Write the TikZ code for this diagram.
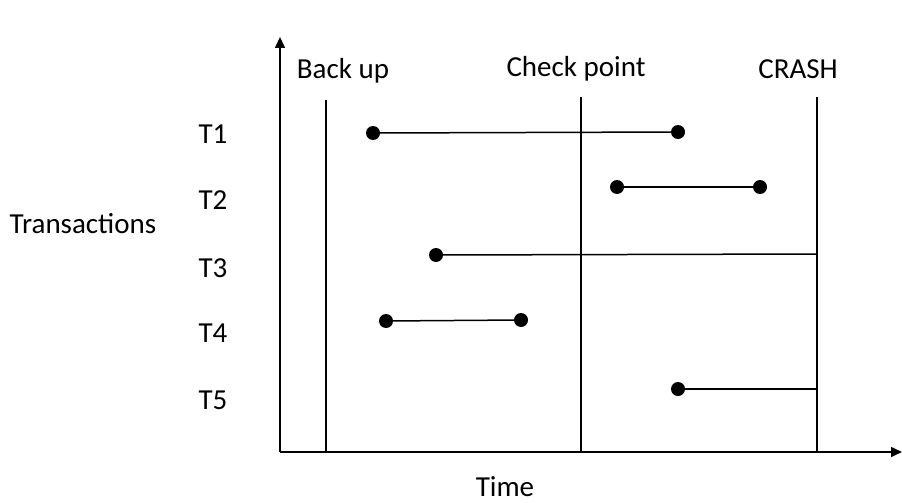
\documentclass[tikz,border=0pt]{standalone}
\usepackage{fontspec}
\setmainfont{Carlito}
\usetikzlibrary{arrows.meta}
\tikzset{
  axis/.style={line width=1.5pt, -{Triangle[length=11pt,width=10pt]}},
  marker/.style={line width=1.5pt},
  event/.style={circle, fill=black, inner sep=0pt, minimum size=14pt},
  lbl/.style={font=\fontsize{29}{33}\selectfont, inner sep=0pt, anchor=base},
}
\begin{document}
\begin{tikzpicture}[x=1pt, y=-1pt]
\useasboundingbox (0,0) rectangle (902,503);
% axes
\coordinate (o) at (280,452);
\coordinate (ytop) at (280,37);
\coordinate (xend) at (902,452);
\draw[axis] (o) -- (ytop);
\draw[axis] (o) -- (xend);
% time markers
\coordinate (b1) at (326,100); \coordinate (b2) at (326,452);
\coordinate (c1) at (581,97);  \coordinate (c2) at (581,452);
\coordinate (k1) at (817,97);  \coordinate (k2) at (817,452);
\draw[marker] (b1) -- (b2);
\draw[marker] (c1) -- (c2);
\draw[marker] (k1) -- (k2);
\node[lbl] (backup) at (343,78) {Back up};
\node[lbl] (check) at (576,77) {Check point};
\node[lbl] (crash) at (798,78) {CRASH};
% transaction labels
\node[lbl] (t1) at (213,143) {T1};
\node[lbl] (t2) at (213,209) {T2};
\node[lbl] (t3) at (213,277) {T3};
\node[lbl] (t4) at (213,342) {T4};
\node[lbl] (t5) at (213,409) {T5};
\node[lbl] (trans) at (83,233) {Transactions};
\node[lbl] (time) at (505,496) {Time};
% transactions
\node[event] (s1) at (373,133) {}; \node[event] (e1) at (678,132) {};
\draw[marker] (s1) -- (e1);
\node[event] (s2) at (617,187) {}; \node[event] (e2) at (760,187) {};
\draw[marker] (s2) -- (e2);
\node[event] (s3) at (436,255) {}; \coordinate (e3) at (817,254);
\draw[marker] (s3) -- (e3);
\node[event] (s4) at (386,321) {}; \node[event] (e4) at (521,320) {};
\draw[marker] (s4) -- (e4);
\node[event] (s5) at (678,389) {}; \coordinate (e5) at (817,389);
\draw[marker] (s5) -- (e5);
\end{tikzpicture}
\end{document}
